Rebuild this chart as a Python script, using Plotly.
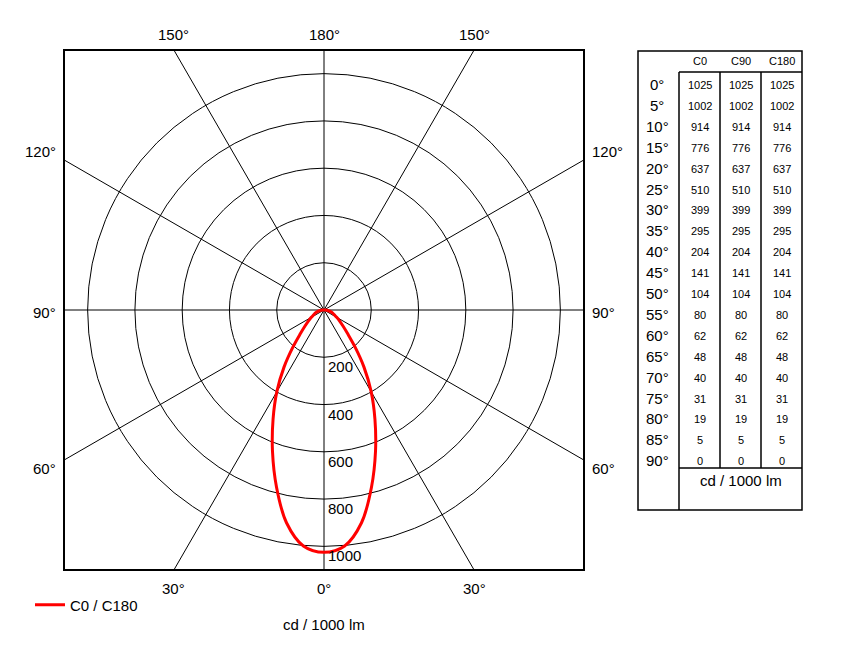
import numpy as np
import plotly.graph_objects as go

# ---------------- data ----------------
gamma_angles = [0, 5, 10, 15, 20, 25, 30, 35, 40, 45, 50, 55, 60, 65, 70, 75, 80, 85, 90]
c0_values = [1025, 1002, 914, 776, 637, 510, 399, 295, 204, 141, 104, 80, 62, 48, 40, 31, 19, 5, 0]
c90_values = [1025, 1002, 914, 776, 637, 510, 399, 295, 204, 141, 104, 80, 62, 48, 40, 31, 19, 5, 0]
c180_values = [1025, 1002, 914, 776, 637, 510, 399, 295, 204, 141, 104, 80, 62, 48, 40, 31, 19, 5, 0]
ring_values = [200, 400, 600, 800, 1000]
spoke_angles = [0, 30, 60, 90, 120, 150, 180, 210, 240, 270, 300, 330]
edge_label_angles = [0, 30, 60, 90, 120, 150, 180]
table_columns = ["C0", "C90", "C180"]
unit_label = "cd / 1000 lm"
series_name = "C0 / C180"

# ---------------- layout geometry ----------------
OFF = 8                                    # page body margin of the html page
W, H = 850 - OFF, 664 - OFF
PL, PR, PT, PB = 64, 584, 50, 570          # plot box in page px
CX, CY = (PL + PR) / 2, (PT + PB) / 2
R = 1100.0                                 # axis half-range (cd/klm)
FONT = "Arial, Liberation Sans, sans-serif"


def px2x(px):
    return (px - PL) / (PR - PL)


def px2y(py):
    return (PB - py) / (PB - PT)


def data2px(x, y):
    return CX + x * (PR - CX) / R, CY - y * (PB - CY) / R


# ---------------- curve ----------------
g = np.radians(gamma_angles)
left_x = -np.array(c180_values) * np.sin(g)
left_y = -np.array(c180_values) * np.cos(g)
right_x = np.array(c0_values) * np.sin(g)
right_y = -np.array(c0_values) * np.cos(g)
curve_x = np.concatenate([left_x[::-1], right_x[1:]])
curve_y = np.concatenate([left_y[::-1], right_y[1:]])

fig = go.Figure()
fig.add_trace(go.Scatter(
    x=curve_x, y=curve_y, mode="lines", name=series_name,
    line=dict(color="#ff0000", width=3, shape="spline", smoothing=1.0),
    showlegend=True, hoverinfo="skip",
))

shapes = []
# rings
for r in ring_values:
    shapes.append(dict(type="circle", xref="x", yref="y", x0=-r, y0=-r, x1=r, y1=r,
                       line=dict(color="#000000", width=1), layer="below"))
# spokes
for a in spoke_angles:
    s, c = np.sin(np.radians(a)), np.cos(np.radians(a))
    t = R / max(abs(s), abs(c))
    shapes.append(dict(type="line", xref="x", yref="y", x0=0, y0=0,
                       x1=float(t * s), y1=float(-t * c),
                       line=dict(color="#000000", width=1), layer="below"))
# plot frame
shapes.append(dict(type="rect", xref="paper", yref="paper", x0=0, y0=0, x1=1, y1=1,
                   line=dict(color="#000000", width=2)))

annotations = []
# ring labels
for r in ring_values:
    annotations.append(dict(x=0, y=-r, xref="x", yref="y", text=str(r), showarrow=False,
                            xanchor="left", yanchor="top", xshift=2, yshift=1,
                            font=dict(family=FONT, size=15, color="#000000")))

# edge angle labels
for a in edge_label_angles:
    sides = [1] if a in (0, 180) else [1, -1]
    for sgn in sides:
        s, c = np.sin(np.radians(a)) * sgn, np.cos(np.radians(a))
        t = R / max(abs(s), abs(c))
        ex, ey = data2px(t * s, -t * c)
        if a in (0, 30, 150, 180):
            py = PB + 18 if c > 0 else PT - 16
            annotations.append(dict(x=px2x(ex), y=px2y(py), xref="paper", yref="paper",
                                    text=f"{a}°", showarrow=False, xanchor="center", yanchor="middle",
                                    font=dict(family=FONT, size=15, color="#000000")))
        else:
            shift = {60: 8, 90: 2, 120: -8}[a]
            py = ey + shift
            if sgn < 0:
                annotations.append(dict(x=px2x(PL - 6), y=px2y(py), xref="paper", yref="paper",
                                        text=f"{a}°", showarrow=False, xanchor="right", yanchor="middle",
                                        font=dict(family=FONT, size=15, color="#000000")))
            else:
                annotations.append(dict(x=px2x(PR + 6), y=px2y(py), xref="paper", yref="paper",
                                        text=f"{a}°", showarrow=False, xanchor="left", yanchor="middle",
                                        font=dict(family=FONT, size=15, color="#000000")))

# unit label below plot
annotations.append(dict(x=px2x(CX), y=px2y(624), xref="paper", yref="paper", text=unit_label,
                        showarrow=False, xanchor="center", yanchor="middle",
                        font=dict(family=FONT, size=15, color="#000000")))

# ---------------- table ----------------
TL, TR, TT, TB = 638, 802, 51, 510
C1, C2, C3 = 679, 720, 761
HDR, FTR = 72, 468


def tline(x0, y0, x1, y1, w=1.5):
    shapes.append(dict(type="line", xref="paper", yref="paper",
                       x0=px2x(x0), y0=px2y(y0), x1=px2x(x1), y1=px2y(y1),
                       line=dict(color="#000000", width=w)))


shapes.append(dict(type="rect", xref="paper", yref="paper",
                   x0=px2x(TL), y0=px2y(TB), x1=px2x(TR), y1=px2y(TT),
                   line=dict(color="#000000", width=1.5)))
tline(C1, HDR, C1, TB)
tline(C1, HDR, TR, HDR)
tline(C2, HDR, C2, FTR)
tline(C3, HDR, C3, FTR)
tline(C1, FTR, TR, FTR)

col_centers = [(C1 + C2) / 2, (C2 + C3) / 2, (C3 + TR) / 2]
for name, cx in zip(table_columns, col_centers):
    annotations.append(dict(x=px2x(cx), y=px2y(61), xref="paper", yref="paper", text=name,
                            showarrow=False, xanchor="center", yanchor="middle",
                            font=dict(family=FONT, size=11, color="#000000")))

row0, row_step = 84.5, 20.9
series_cols = [c0_values, c90_values, c180_values]
for i, ang in enumerate(gamma_angles):
    py = row0 + i * row_step
    annotations.append(dict(x=px2x(657), y=px2y(py), xref="paper", yref="paper", text=f"{ang}°",
                            showarrow=False, xanchor="center", yanchor="middle",
                            font=dict(family=FONT, size=15, color="#000000")))
    for vals, cx in zip(series_cols, col_centers):
        annotations.append(dict(x=px2x(cx), y=px2y(py + 0.5), xref="paper", yref="paper",
                                text=str(vals[i]), showarrow=False, xanchor="center", yanchor="middle",
                                font=dict(family=FONT, size=11, color="#000000")))

annotations.append(dict(x=px2x((C1 + TR) / 2), y=px2y(481), xref="paper", yref="paper", text=unit_label,
                        showarrow=False, xanchor="center", yanchor="middle",
                        font=dict(family=FONT, size=15, color="#000000")))

fig.update_layout(
    width=W, height=H,
    margin=dict(l=PL - OFF, r=W - (PR - OFF), t=PT - OFF, b=H - (PB - OFF), pad=0),
    paper_bgcolor="#ffffff", plot_bgcolor="#ffffff",
    xaxis=dict(range=[-R, R], showgrid=False, zeroline=False, showticklabels=False,
               ticks="", showline=False, fixedrange=True),
    yaxis=dict(range=[-R, R], showgrid=False, zeroline=False, showticklabels=False,
               ticks="", showline=False, fixedrange=True),
    shapes=shapes,
    annotations=annotations,
    showlegend=True,
    legend=dict(x=px2x(30), y=px2y(605), xanchor="left", yanchor="middle",
                bgcolor="rgba(0,0,0,0)", borderwidth=0,
                font=dict(family=FONT, size=15, color="#000000")),
    font=dict(family=FONT, color="#000000"),
)

fig.write_html("out.html")
